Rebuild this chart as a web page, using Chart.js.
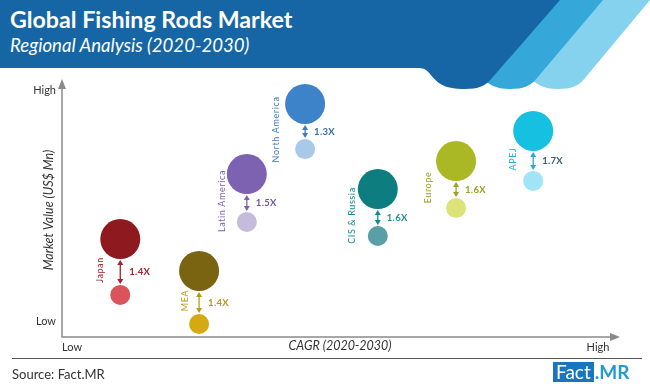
<!DOCTYPE html>
<html>
<head>
<meta charset="utf-8">
<script src="https://cdn.jsdelivr.net/npm/chart.js@4"></script>
<style>
  html, body { margin: 0; padding: 0; background: #fff; }
  #wrap { position: relative; width: 650px; height: 389px; overflow: hidden; font-family: Lato, "Open Sans", sans-serif; }
  #header { position: absolute; left: 0; top: 0; }
  #title { position: absolute; left: 10px; top: 5px; color: #fff; font-weight: bold; font-size: 23.2px; }
  #subtitle { position: absolute; left: 10px; top: 34px; color: #fff; font-style: italic; font-size: 18.6px; }
  #chart { position: absolute; left: 0; top: 0; }
  #rule { position: absolute; left: 12px; top: 358px; width: 630px; height: 0; border-top: 1.5px solid #555; }
  #source { position: absolute; left: 12px; top: 366px; font-size: 13px; color: #333; }
  #logo { position: absolute; left: 553px; top: 362px; height: 20px; display: flex; align-items: center; }
  #logo .box { background: #1b75bc; color: #fff; font-size: 19px; line-height: 20px; padding: 0 3px; height: 20px; }
  #logo .mr { color: #1f9ad6; font-size: 19px; font-weight: bold; line-height: 20px; margin-left: 1px; }
</style>
</head>
<body>
<div id="wrap">
  <svg id="header" width="650" height="95">
    <path fill="#85d2ee" d="M500,0 H650 L585,78 C579,86 571,89 558,89 C543,89 536,84 530,78 L500,40 Z"/>
    <path fill="#35a8d9" d="M450,0 H603 L537,78 C531,86 523,89 510,89 C495,89 488,84 482,78 L450,40 Z"/>
    <path fill="#1666a6" d="M0,0 H560 L492,78 C486,86 478,89 465,89 C445,89 438,84 430,74 C427,70 424,68 418,68 H0 Z"/>
  </svg>
  <div id="title">Global Fishing Rods Market</div>
  <div id="subtitle">Regional Analysis (2020-2030)</div>
  <canvas id="chart" width="650" height="389"></canvas>
  <div id="rule"></div>
  <div id="source">Source: Fact.MR</div>
  <div id="logo"><span class="box">Fact</span><span class="mr">.MR</span></div>
</div>
<script>
// relative positions (axes are qualitative: 0 = low, 100 = high)
const regions = ["Japan", "MEA", "Latin America", "North America", "CIS & Russia", "Europe", "APEJ"];
const cagrPos = [10.5, 24.7, 33.3, 43.8, 56.9, 71.0, 84.9];
const value2030 = [38.4, 25.9, 63.9, 91.4, 58.0, 69.0, 80.8];
const value2020 = [16.5, 5.1, 45.1, 73.7, 39.6, 50.6, 61.2];
const growth = ["1.4X", "1.4X", "1.5X", "1.3X", "1.6X", "1.6X", "1.7X"];

const darkColors = ["#8e1a20", "#7a6412", "#7c62b0", "#3d83c9", "#0e7d80", "#abb825", "#15c0e1"];
const lightColors = ["#d9545b", "#d5a912", "#c7bbdd", "#a9c9e9", "#5b9fa6", "#dde37b", "#9fe5f6"];
const textColors = ["#a3212a", "#b99a17", "#7c62b0", "#3d7cc0", "#108a8d", "#98a322", "#22abd4"];
const growthColors = ["#a3212a", "#b8941c", "#6f55a3", "#2f6ea8", "#2b8a8f", "#98a022", "#3a5d70"];
// horizontal gap between the arrow and its rotated region name (layout only)
const labelGap = [20, 14, 25, 29, 26, 28, 20];

const R_BIG = 20, R_SMALL = 10;
const FONT = 'Lato, "Open Sans", sans-serif';

const overlay = {
  id: "overlay",
  beforeDatasetsDraw(chart) {
    const { ctx, chartArea: a } = chart;
    ctx.save();
    ctx.strokeStyle = "#8a8a8a";
    ctx.fillStyle = "#8a8a8a";
    ctx.lineWidth = 1.5;
    ctx.beginPath();
    ctx.moveTo(a.left, a.top + 4);
    ctx.lineTo(a.left, a.bottom);
    ctx.lineTo(a.right - 4, a.bottom);
    ctx.stroke();
    ctx.beginPath();
    ctx.moveTo(a.left, a.top - 3);
    ctx.lineTo(a.left - 4, a.top + 7);
    ctx.lineTo(a.left + 4, a.top + 7);
    ctx.fill();
    ctx.beginPath();
    ctx.moveTo(a.right + 3, a.bottom);
    ctx.lineTo(a.right - 7, a.bottom - 4);
    ctx.lineTo(a.right - 7, a.bottom + 4);
    ctx.fill();

    ctx.fillStyle = "#333";
    ctx.font = "11px " + FONT;
    ctx.textBaseline = "middle";
    ctx.textAlign = "right";
    ctx.fillText("High", a.left - 6, a.top + 8);
    ctx.fillText("Low", a.left - 6, a.bottom - 16);
    ctx.textAlign = "center";
    ctx.fillText("Low", a.left + 10, a.bottom + 10);
    ctx.fillText("High", a.right - 19, a.bottom + 10);
    ctx.font = "italic 12.5px " + FONT;
    ctx.fillText("CAGR (2020-2030)", 340, a.bottom + 9);
    ctx.translate(49, 210);
    ctx.rotate(-Math.PI / 2);
    ctx.font = "italic 12.5px " + FONT;
    ctx.fillText("Market Value (US$ Mn)", 0, 0);
    ctx.restore();
  },
  afterDatasetsDraw(chart) {
    const { ctx, scales: { x, y } } = chart;
    ctx.save();
    regions.forEach((name, i) => {
      const px = x.getPixelForValue(cagrPos[i]);
      const yBig = y.getPixelForValue(value2030[i]);
      const ySmall = y.getPixelForValue(value2020[i]);
      const top = yBig + R_BIG + 1;
      const bot = ySmall - R_SMALL - 1;
      const mid = (yBig + ySmall) / 2;
      const c = textColors[i];
      ctx.strokeStyle = c;
      ctx.fillStyle = c;
      ctx.lineWidth = 1.3;
      ctx.beginPath();
      ctx.moveTo(px, top + 3);
      ctx.lineTo(px, bot - 3);
      ctx.stroke();
      ctx.beginPath();
      ctx.moveTo(px, top);
      ctx.lineTo(px - 3, top + 5);
      ctx.lineTo(px + 3, top + 5);
      ctx.fill();
      ctx.beginPath();
      ctx.moveTo(px, bot);
      ctx.lineTo(px - 3, bot - 5);
      ctx.lineTo(px + 3, bot - 5);
      ctx.fill();

      ctx.save();
      ctx.translate(px - labelGap[i], mid + 3);
      ctx.rotate(-Math.PI / 2);
      ctx.font = "9px " + FONT;
      ctx.letterSpacing = "0.6px";
      ctx.textAlign = "center";
      ctx.textBaseline = "middle";
      ctx.fillText(name, 0, 0);
      ctx.restore();

      ctx.fillStyle = growthColors[i];
      ctx.font = "bold 9.5px " + FONT;
      ctx.letterSpacing = "0.3px";
      ctx.textAlign = "left";
      ctx.textBaseline = "middle";
      ctx.fillText(growth[i], px + 9, mid + 5);
    });
    ctx.restore();
  }
};

new Chart(document.getElementById("chart"), {
  type: "scatter",
  data: {
    datasets: [
      {
        label: "2030",
        data: regions.map((r, i) => ({ x: cagrPos[i], y: value2030[i] })),
        backgroundColor: darkColors,
        borderWidth: 0,
        pointRadius: R_BIG,
        pointHoverRadius: R_BIG
      },
      {
        label: "2020",
        data: regions.map((r, i) => ({ x: cagrPos[i], y: value2020[i] })),
        backgroundColor: lightColors,
        borderWidth: 0,
        pointRadius: R_SMALL,
        pointHoverRadius: R_SMALL
      }
    ]
  },
  options: {
    responsive: false,
    animation: false,
    layout: { padding: { left: 62, right: 33, top: 82, bottom: 52 } },
    scales: {
      x: { type: "linear", min: 0, max: 100, display: false },
      y: { type: "linear", min: 0, max: 100, display: false }
    },
    plugins: {
      legend: { display: false },
      tooltip: { enabled: false }
    }
  },
  plugins: [overlay]
});
</script>
</body>
</html>
